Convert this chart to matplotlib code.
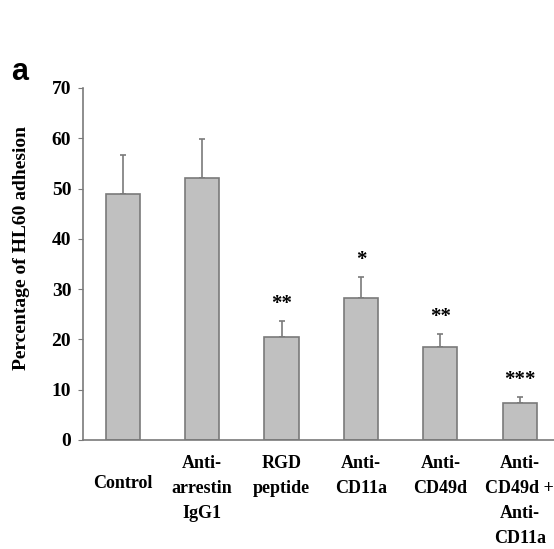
import numpy as np
import matplotlib.pyplot as plt
from matplotlib.transforms import ScaledTranslation

# Data
categories = ["Control", "Anti-\narrestin\nIgG1", "RGD\npeptide", "Anti-\nCD11a",
              "Anti-\nCD49d", "Anti-\nCD49d +\nAnti-\nCD11a"]
adhesion = [48.9, 52.1, 20.4, 28.2, 18.4, 7.4]
err_up = [7.7, 7.8, 3.2, 4.2, 2.7, 1.2]
stars = ["", "", "**", "*", "**", "***"]
yticks = [0, 10, 20, 30, 40, 50, 60, 70]

plt.rcParams['font.family'] = ['Liberation Serif', 'DejaVu Serif']
plt.rcParams['font.weight'] = 'bold'

fig = plt.figure(figsize=(5.54, 5.49), dpi=100)
ax = fig.add_axes([83 / 554, 109 / 549, 1 - 83 / 554, 352 / 549])

x = np.arange(len(categories))
ax.bar(x, adhesion, width=0.43, color='#c0c0c0', edgecolor='#7a7a7a', linewidth=1.2, zorder=2)
ax.errorbar(x, adhesion, yerr=[np.zeros(len(x)), err_up], fmt='none',
            ecolor='#7a7a7a', elinewidth=1.2, capsize=2.5, capthick=1.2, zorder=1)

for xi, y, e, s in zip(x, adhesion, err_up, stars):
    if s:
        ax.text(xi, y + e + 3.4, s, ha='center', va='center', fontsize=15, fontweight='bold')

ax.set_xlim(-0.5, 5.43)
ax.set_ylim(0, 70)
ax.set_yticks(yticks)
ax.set_xticks(x)
ax.set_xticklabels(categories, fontsize=13, fontweight='bold', linespacing=1.6, va='top')
ax.tick_params(axis='x', length=0, pad=11)
ax.tick_params(axis='y', length=3.5, color='#7a7a7a', labelsize=14, pad=5)

# Control label sits a bit lower
lbl = ax.get_xticklabels()[0]
lbl.set_transform(lbl.get_transform() + ScaledTranslation(0, -0.2, fig.dpi_scale_trans))

for side in ['top', 'right']:
    ax.spines[side].set_visible(False)
for side in ['left', 'bottom']:
    ax.spines[side].set_color('#7a7a7a')
    ax.spines[side].set_linewidth(1.2)

ax.set_ylabel('Percentage of HL60 adhesion', fontsize=14, fontweight='bold')
ax.yaxis.set_label_coords(-0.112, 0.545)

fig.text(20 / 554, 1 - 72 / 549, 'a', fontsize=22, fontweight='bold',
         family='Liberation Sans', ha='center', va='center')

fig.savefig('out.png', dpi=100)
